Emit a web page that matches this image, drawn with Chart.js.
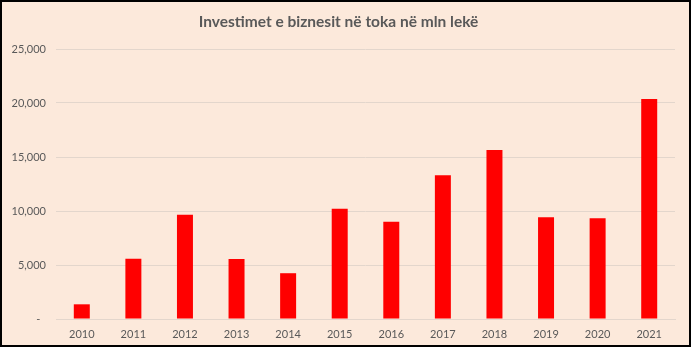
<!DOCTYPE html>
<html>
<head>
<meta charset="utf-8">
<script src="https://cdn.jsdelivr.net/npm/chart.js@4.4.0/dist/chart.umd.min.js"></script>
<style>
    html, body { margin: 0; padding: 0; background: #fff; }
    #frame {
        width: 691px;
        height: 347px;
        box-sizing: border-box;
        border: 2px solid #000;
        background: #fce9db;
    }
    #wrap { width: 687px; height: 343px; position: relative; }
</style>
</head>
<body>
<div id="frame"><div id="wrap"><canvas id="landChart"></canvas></div></div>
<script>
// Chart data
const years = ['2010', '2011', '2012', '2013', '2014', '2015', '2016', '2017', '2018', '2019', '2020', '2021'];
const investments = [1360, 5570, 9650, 5560, 4240, 10200, 9000, 13300, 15650, 9430, 9340, 20380];
const yTicks = [0, 5000, 10000, 15000, 20000, 25000];

const titleText = 'Investimet e biznesit në toka në mln lekë';
const textColor = '#595959';
const gridColor = '#e3d6cc';

function formatTick(value) {
    if (value === 0) return '-  ';
    return value.toLocaleString('en-US');
}

const ctx = document.getElementById('landChart').getContext('2d');
new Chart(ctx, {
    type: 'bar',
    data: {
        labels: years,
        datasets: [{
            data: investments,
            backgroundColor: '#ff0000',
            borderWidth: 0,
            barPercentage: 0.31,
            categoryPercentage: 1
        }]
    },
    options: {
        responsive: true,
        maintainAspectRatio: false,
        animation: false,
        layout: {
            padding: { left: 0, right: 14, top: 0, bottom: 0 }
        },
        plugins: {
            legend: { display: false },
            tooltip: { enabled: false },
            title: {
                display: true,
                text: titleText,
                color: textColor,
                font: { family: 'Lato', size: 15.5, weight: 'bold' },
                padding: { top: 11, bottom: 17.4 }
            }
        },
        scales: {
            x: {
                afterFit: (scale) => { scale.height = 26; },
                grid: { display: false, drawTicks: false },
                border: { display: true, color: gridColor, width: 1 },
                ticks: {
                    color: textColor,
                    font: { family: 'Lato', size: 11 },
                    padding: 9,
                    maxRotation: 0
                }
            },
            y: {
                min: 0,
                max: 25000,
                afterFit: (scale) => { scale.width = 54; },
                afterBuildTicks: (scale) => {
                    scale.ticks = yTicks.map(v => ({ value: v }));
                },
                grid: { color: gridColor, lineWidth: 1, drawTicks: false },
                border: { display: false },
                ticks: {
                    color: textColor,
                    font: { family: 'Lato', size: 11 },
                    padding: 10,
                    callback: formatTick
                }
            }
        }
    }
});
</script>
</body>
</html>
